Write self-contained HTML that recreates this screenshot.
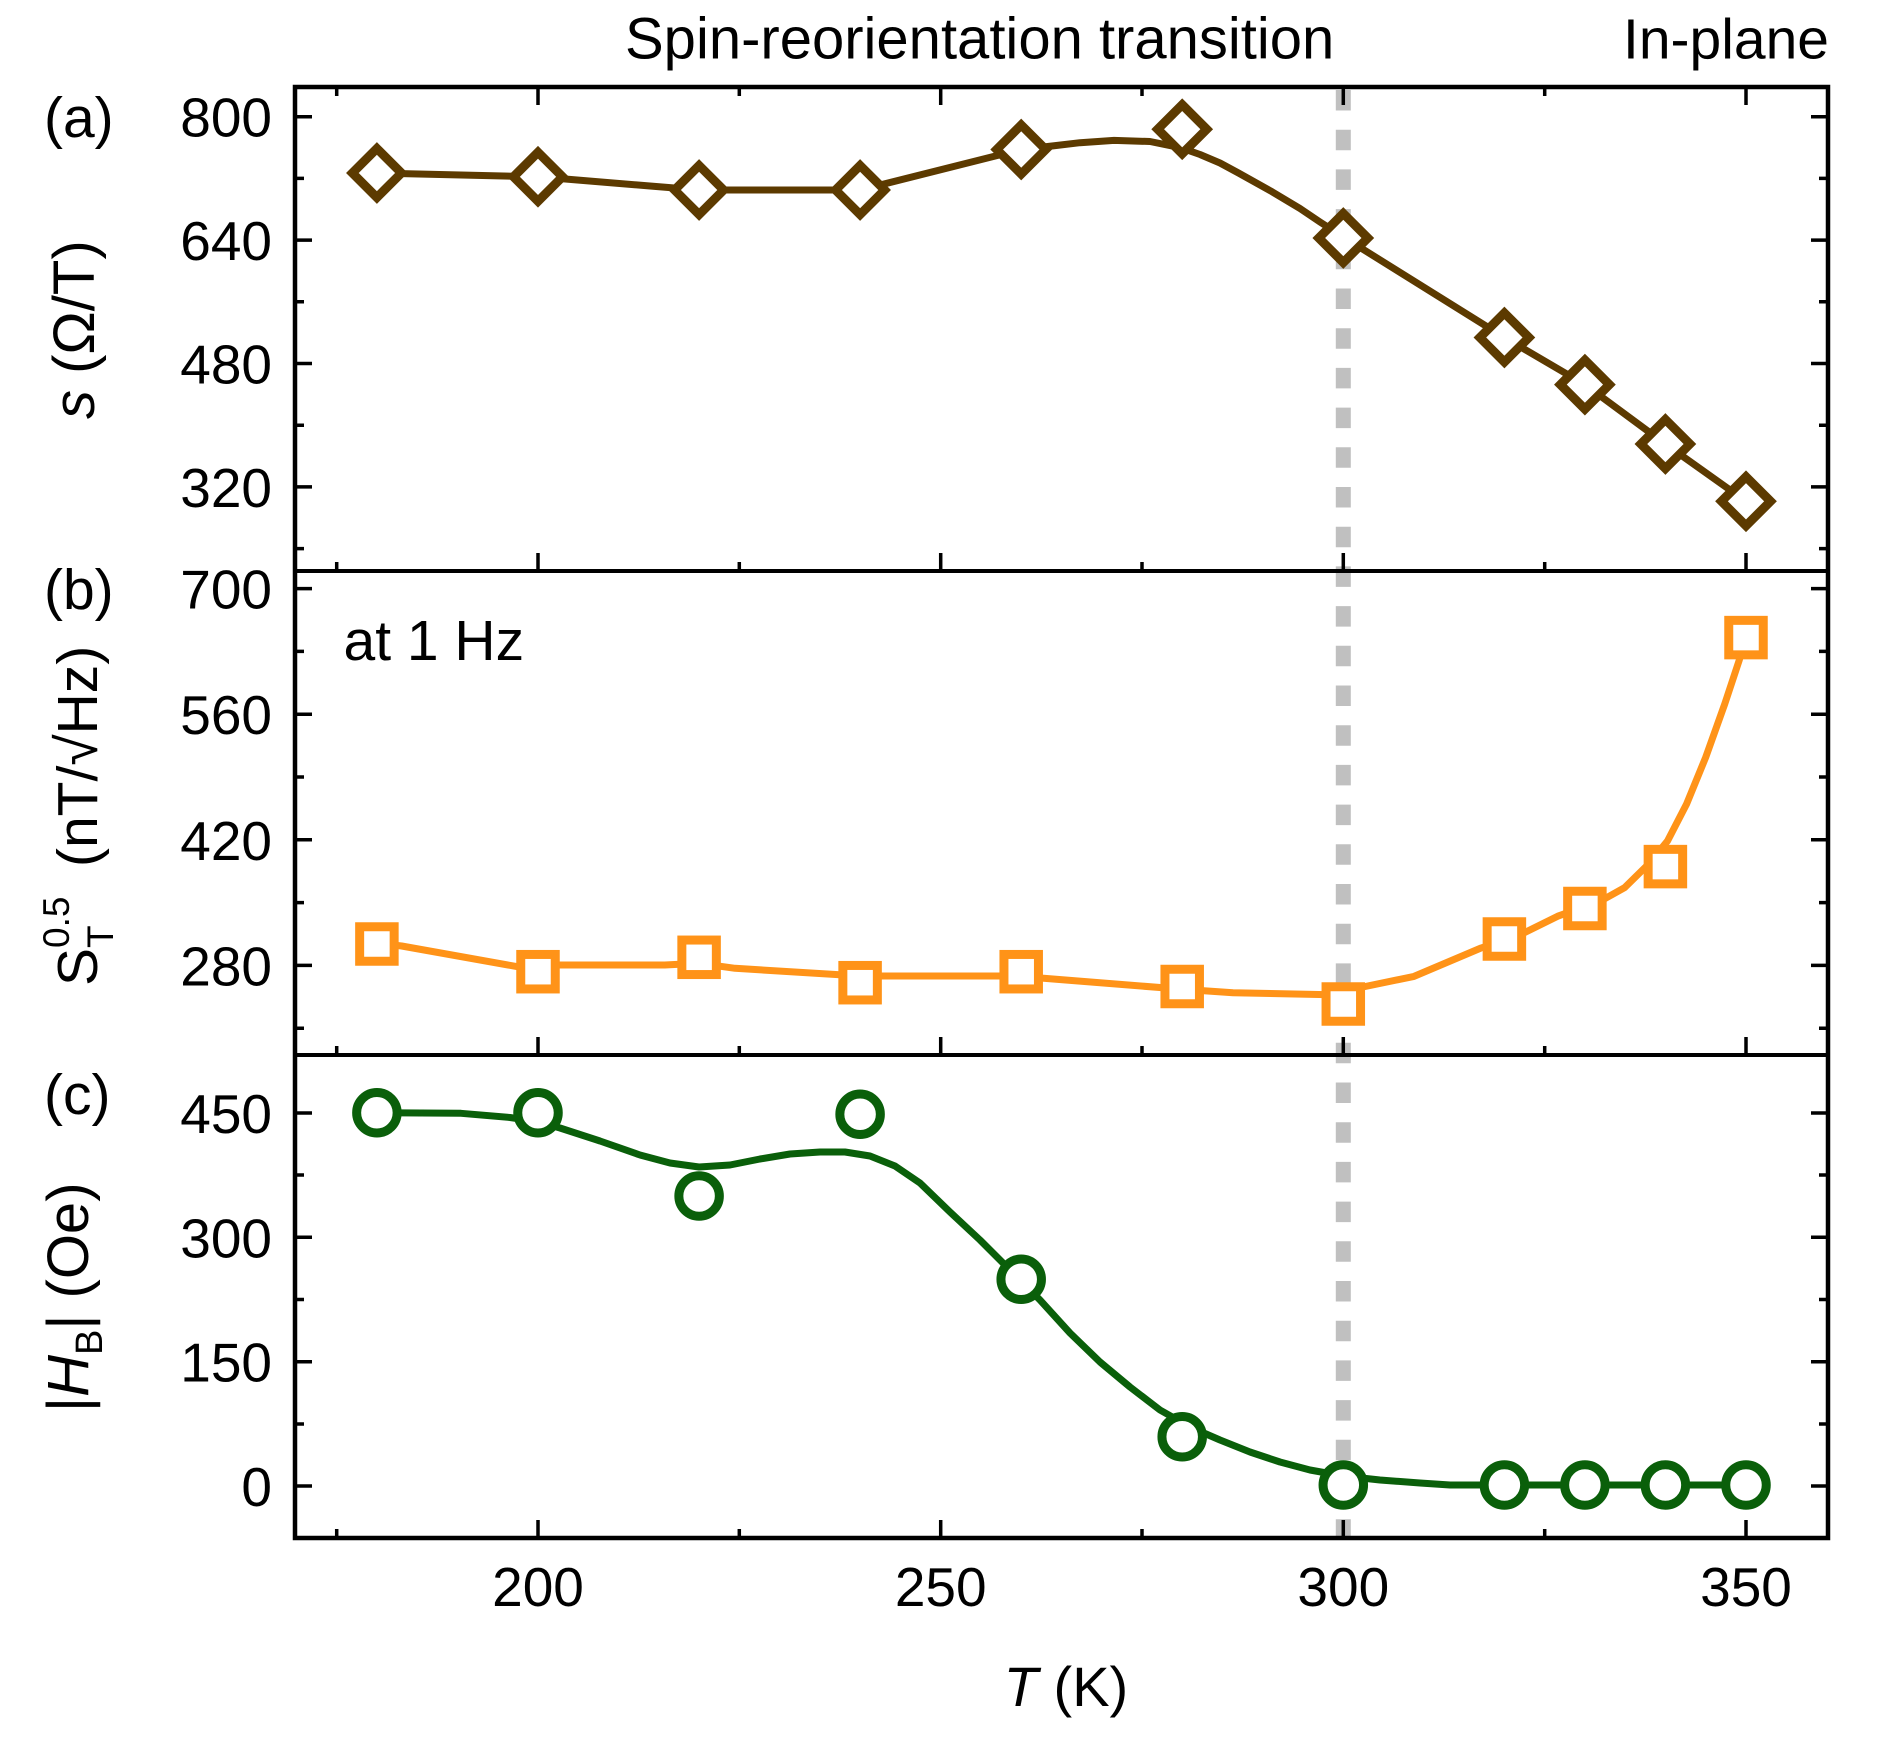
<!DOCTYPE html>
<html>
<head>
<meta charset="utf-8">
<style>
html,body{margin:0;padding:0;background:#fff;}
svg{display:block;}
text{font-family:"Liberation Sans",Arial,sans-serif;fill:#000;}
</style>
</head>
<body>
<svg width="1894" height="1750" viewBox="0 0 1894 1750" xmlns="http://www.w3.org/2000/svg">
<defs>
<path id="dia" d="M0,-24.5 L24.5,0 L0,24.5 L-24.5,0Z" fill="#fff" stroke="#5c3a00" stroke-width="9" stroke-linejoin="miter"/>
<rect id="sq" x="-17.25" y="-17.25" width="34.5" height="34.5" fill="#fff" stroke="#ff9318" stroke-width="9"/>
<circle id="ci" r="20.25" fill="#fff" stroke="#0a5f0a" stroke-width="9"/>
</defs>
<rect width="1894" height="1750" fill="#fff"/>

<!-- dashed transition line -->
<line x1="1343.3" y1="90" x2="1343.3" y2="1536" stroke="#c0c0c0" stroke-width="15" stroke-dasharray="20.5 19.2"/>

<!-- panel a curve -->
<polyline fill="none" stroke="#5c3a00" stroke-width="7" stroke-linejoin="round" points="376.9,173 538,176.8 650,186 699.1,190 860.1,190 1021.2,149.5 1052,146 1080,142.7 1114,140.4 1150,141.5 1181,147.8 1200,154.5 1220,163 1238.5,173 1272,191.7 1300,208.5 1320,222 1343.3,237 1504.4,337.5 1584.9,384.6 1665.4,444 1746,501.3"/>

<!-- panel b curve -->
<polyline fill="none" stroke="#ff9318" stroke-width="7" stroke-linejoin="round" points="376.9,943 401.7,946 517.5,966.7 538,965 664.8,965 699.1,963.3 735,968.3 860.1,976 1001.5,976 1043.6,978.3 1182.2,989.3 1233,992.7 1331,994.7 1358,988 1414,976.4 1481,948 1504.4,940 1524,932.9 1557.7,916.2 1600.7,901 1624.5,887.7 1648.4,864.3 1667.5,841 1686.6,804 1705.7,757.3 1724.8,703.8 1739.2,660.3 1746,637.6"/>

<!-- panel c curve -->
<polyline fill="none" stroke="#0a5f0a" stroke-width="7" stroke-linejoin="round" points="376.9,1112.7 461,1113.3 510,1117.5 538,1121.7 560,1128 600,1141 640,1155 670,1163 699,1167 730,1165 760,1159 790,1154 820,1152 845,1152 870,1156 895,1166 920,1183 950,1212 980,1240 1010,1270 1040,1300 1070,1333 1100,1362 1130,1387 1160,1410 1190,1427 1220,1440 1250,1452 1280,1462 1310,1470 1343.3,1476 1380,1480 1420,1483 1450,1485 1746,1485"/>

<!-- markers a -->
<use href="#dia" x="376.9" y="173"/>
<use href="#dia" x="538" y="176.8"/>
<use href="#dia" x="699.1" y="190"/>
<use href="#dia" x="860.1" y="190"/>
<use href="#dia" x="1021.2" y="149.5"/>
<use href="#dia" x="1182.2" y="129.2"/>
<use href="#dia" x="1343.3" y="238"/>
<use href="#dia" x="1504.4" y="337.5"/>
<use href="#dia" x="1584.9" y="384.6"/>
<use href="#dia" x="1665.4" y="444"/>
<use href="#dia" x="1746" y="501.3"/>

<!-- markers b -->
<use href="#sq" x="376.9" y="944"/>
<use href="#sq" x="538" y="971.7"/>
<use href="#sq" x="699.1" y="957.3"/>
<use href="#sq" x="860.1" y="982.7"/>
<use href="#sq" x="1021.2" y="971.7"/>
<use href="#sq" x="1182.2" y="986.5"/>
<use href="#sq" x="1343.3" y="1004"/>
<use href="#sq" x="1504.4" y="939"/>
<use href="#sq" x="1584.9" y="908.5"/>
<use href="#sq" x="1665.4" y="866.6"/>
<use href="#sq" x="1746" y="637.6"/>

<!-- markers c -->
<use href="#ci" x="376.9" y="1112.7"/>
<use href="#ci" x="538" y="1112.7"/>
<use href="#ci" x="699.1" y="1196"/>
<use href="#ci" x="860.1" y="1114.3"/>
<use href="#ci" x="1021.2" y="1279.3"/>
<use href="#ci" x="1182.2" y="1436.7"/>
<use href="#ci" x="1343.3" y="1485"/>
<use href="#ci" x="1504.4" y="1485"/>
<use href="#ci" x="1584.9" y="1485"/>
<use href="#ci" x="1665.4" y="1485"/>
<use href="#ci" x="1746" y="1485"/>

<!-- frame -->
<rect x="295" y="87" width="1533" height="1451" fill="none" stroke="#000" stroke-width="4.5"/>
<line x1="295" y1="571" x2="1828" y2="571" stroke="#000" stroke-width="4"/>
<line x1="295" y1="1055" x2="1828" y2="1055" stroke="#000" stroke-width="4"/>

<!-- y ticks -->
<path fill="none" stroke="#000" stroke-width="3.5" d="
M295,116.7h17 M295,240.1h17 M295,363.5h17 M295,486.9h17
M295,588.6h17 M295,714.2h17 M295,839.8h17 M295,965.4h17
M295,1113h17 M295,1237.3h17 M295,1361.7h17 M295,1486h17
M295,178.4h9 M295,301.8h9 M295,425.2h9 M295,548.6h9
M295,651.4h9 M295,777h9 M295,902.6h9 M295,1028.2h9
M295,1175h9 M295,1299.5h9 M295,1424h9
M1828,116.7h-17 M1828,240.1h-17 M1828,363.5h-17 M1828,486.9h-17
M1828,588.6h-17 M1828,714.2h-17 M1828,839.8h-17 M1828,965.4h-17
M1828,1113h-17 M1828,1237.3h-17 M1828,1361.7h-17 M1828,1486h-17
M1828,178.4h-9 M1828,301.8h-9 M1828,425.2h-9 M1828,548.6h-9
M1828,651.4h-9 M1828,777h-9 M1828,902.6h-9 M1828,1028.2h-9
M1828,1175h-9 M1828,1299.5h-9 M1828,1424h-9
"/>

<!-- x ticks -->
<path fill="none" stroke="#000" stroke-width="3.5" d="
M538,87v18 M940.7,87v18 M1343.3,87v18 M1746,87v18
M336.7,87v9 M739.3,87v9 M1142,87v9 M1544.7,87v9
M538,571v-18 M940.7,571v-18 M1343.3,571v-18 M1746,571v-18
M336.7,571v-9 M739.3,571v-9 M1142,571v-9 M1544.7,571v-9
M538,1055v-18 M940.7,1055v-18 M1343.3,1055v-18 M1746,1055v-18
M336.7,1055v-9 M739.3,1055v-9 M1142,1055v-9 M1544.7,1055v-9
M538,1538v-18 M940.7,1538v-18 M1343.3,1538v-18 M1746,1538v-18
M336.7,1538v-9 M739.3,1538v-9 M1142,1538v-9 M1544.7,1538v-9
"/>

<!-- y tick labels -->
<g font-size="55" text-anchor="end">
<text x="272" y="136.7">800</text>
<text x="272" y="260.1">640</text>
<text x="272" y="383.5">480</text>
<text x="272" y="506.9">320</text>
<text x="272" y="608.6">700</text>
<text x="272" y="734.2">560</text>
<text x="272" y="859.8">420</text>
<text x="272" y="985.4">280</text>
<text x="272" y="1133">450</text>
<text x="272" y="1257.3">300</text>
<text x="272" y="1381.7">150</text>
<text x="272" y="1506">0</text>
</g>

<!-- x tick labels -->
<g font-size="55" text-anchor="middle">
<text x="538" y="1606">200</text>
<text x="940.7" y="1606">250</text>
<text x="1343.3" y="1606">300</text>
<text x="1746" y="1606">350</text>
</g>

<text x="1066" y="1706" font-size="56" text-anchor="middle"><tspan font-style="italic">T</tspan> (K)</text>

<!-- top labels -->
<text x="625" y="58.5" font-size="58">Spin-reorientation transition</text>
<text x="1829" y="58.5" font-size="57" text-anchor="end">In-plane</text>

<!-- panel labels -->
<text x="44" y="137" font-size="57">(a)</text>
<text x="44" y="609" font-size="57">(b)</text>
<text x="44" y="1114" font-size="57">(c)</text>

<text x="343.5" y="660" font-size="57">at 1 Hz</text>

<!-- y axis labels -->
<text transform="translate(94,419) rotate(-90)" font-size="58"><tspan font-style="italic">s</tspan> (Ω/T)</text>

<text transform="translate(97,986) rotate(-90)" font-size="57">S<tspan font-size="37" dy="16">T</tspan><tspan font-size="37" x="38" dy="-44">0.5</tspan><tspan x="119" dy="28">(nT/√Hz)</tspan></text>

<text transform="translate(88,1412) rotate(-90)" font-size="58">|<tspan font-style="italic">H</tspan><tspan font-size="38" dy="14">B</tspan><tspan dy="-14">| (Oe)</tspan></text>

</svg>
</body>
</html>
